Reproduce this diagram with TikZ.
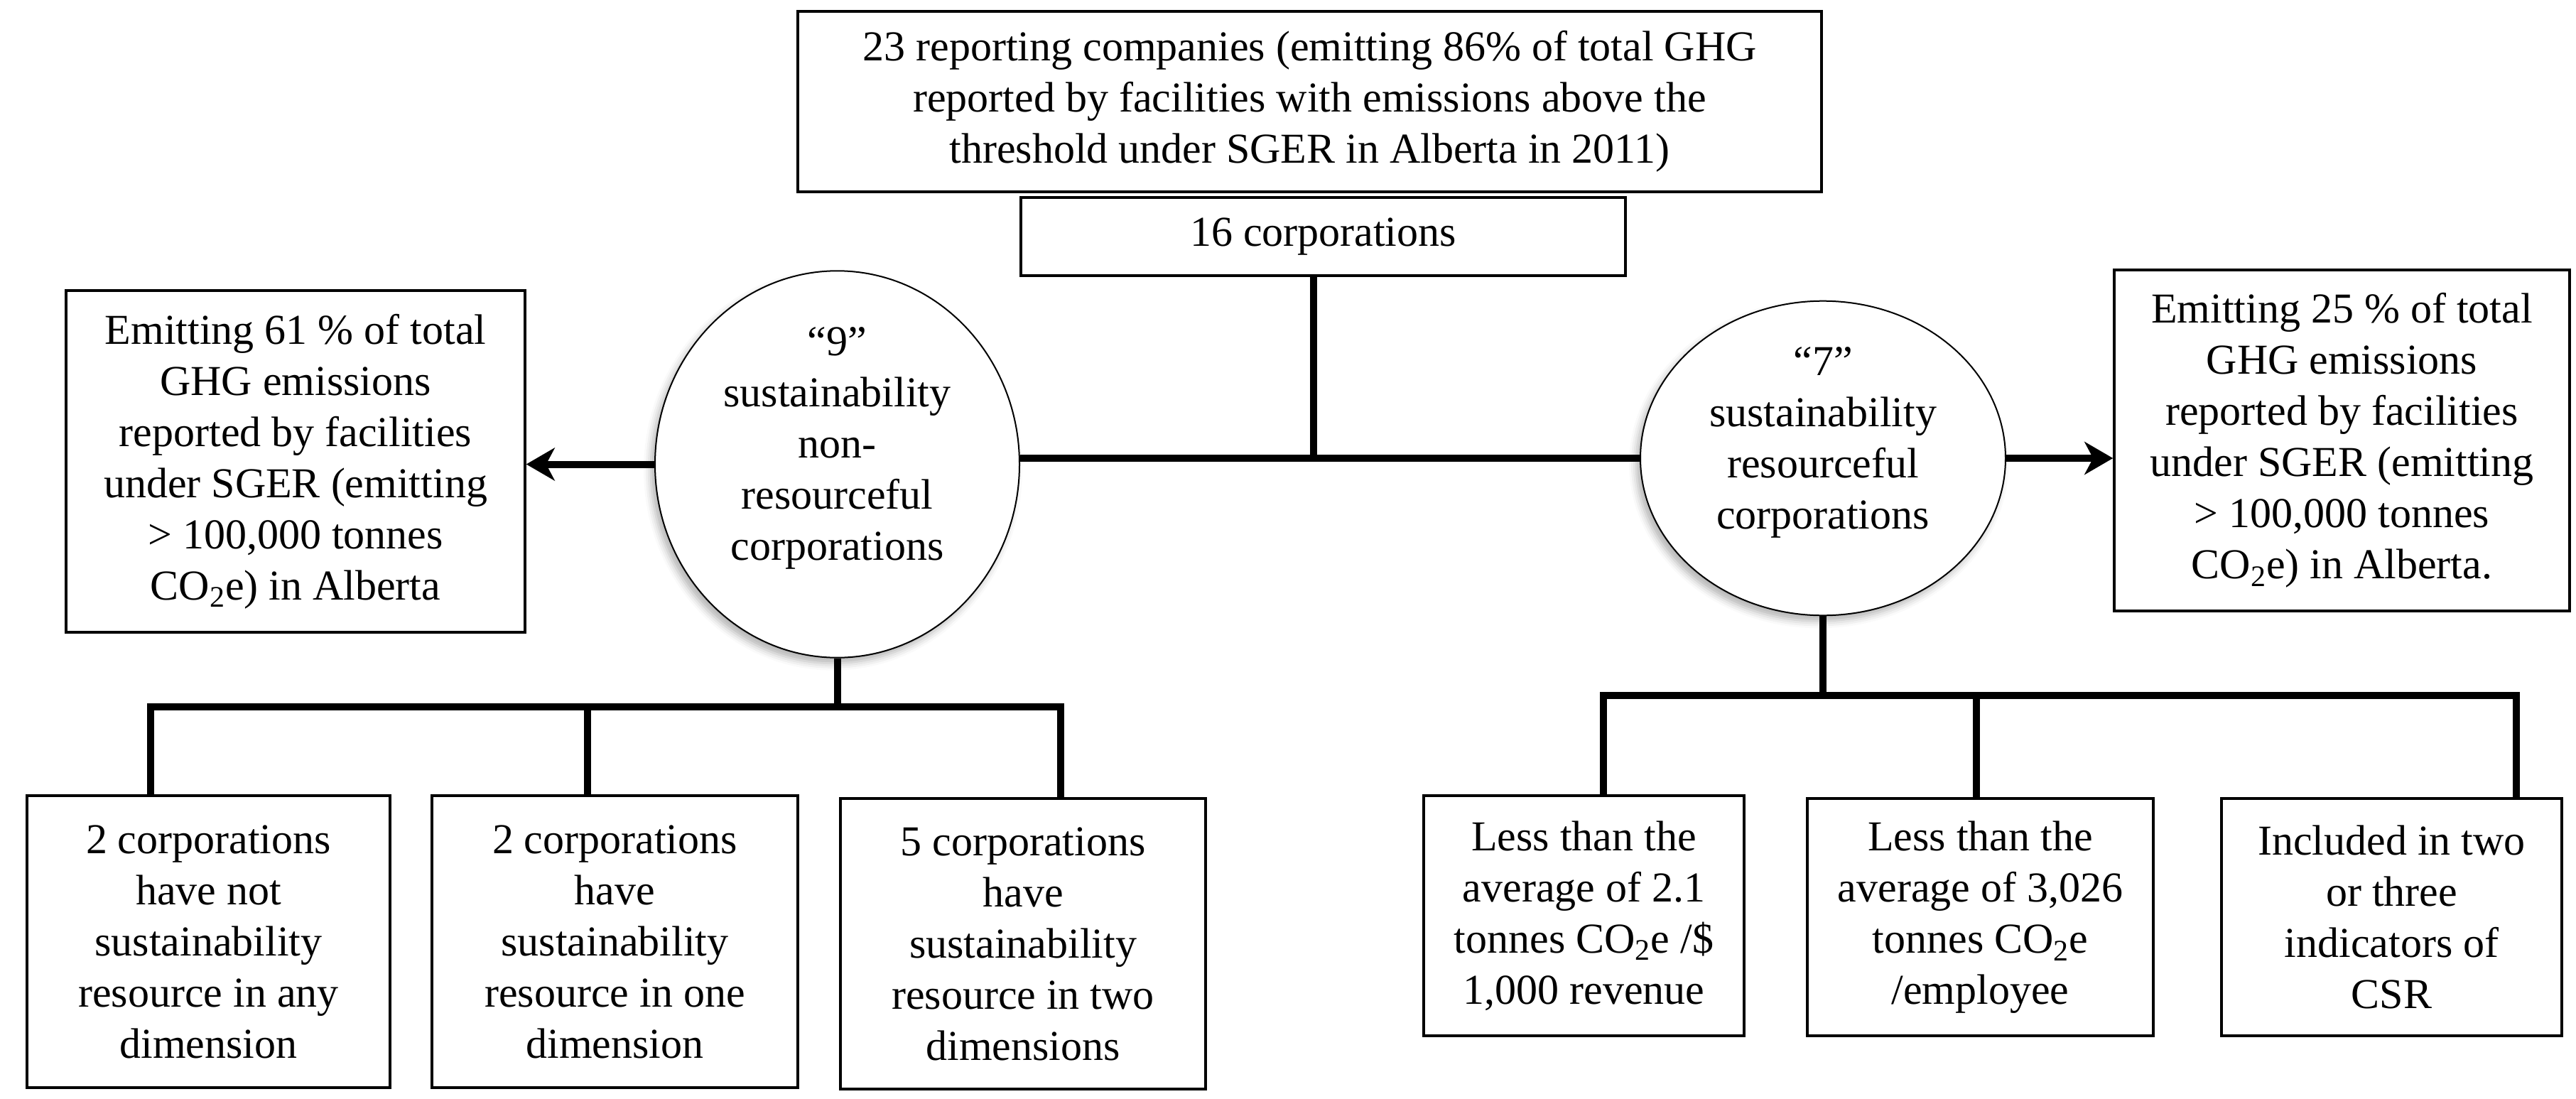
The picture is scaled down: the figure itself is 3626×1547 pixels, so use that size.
\documentclass[tikz,border=0pt]{standalone}
\usepackage{fontspec}
\setmainfont{Liberation Serif}
\usetikzlibrary{shapes.geometric,arrows.meta,shadows.blur}
\tikzset{
  txt/.style={font=\fontsize{30pt}{36pt}\selectfont, align=center, inner sep=0pt},
  rbox/.style={txt, draw, line width=1.75pt, rectangle},
  oval/.style={txt, draw, fill=white, line width=1pt, ellipse,
    blur shadow={shadow xshift=-3pt, shadow yshift=-4pt, shadow blur radius=5pt, shadow opacity=30}},
  conn/.style={line width=5pt},
  arr/.style={conn, -{Stealth[length=20pt,width=23pt,inset=6pt]}},
}
\begin{document}
\begin{tikzpicture}[x=0.5pt,y=-0.5pt]
\useasboundingbox (0,0) rectangle (3626,1547);
% boxes
\node[rbox, minimum width=720.5pt, minimum height=127pt] (top) at (1843.5,143)
  {23 reporting companies (emitting 86\% of total GHG\\ reported by facilities with emissions above the\\ threshold under SGER in Alberta in 2011)};
\node[rbox, minimum width=425.5pt, minimum height=55pt] (c16) at (1862.5,333) {16 corporations};
\node[rbox, minimum width=323pt, minimum height=240.5pt] (left) at (416,649.5)
  {Emitting 61 \% of total\\ GHG emissions\\ reported by facilities\\ under SGER (emitting\\ > 100,000 tonnes\\ CO\textsubscript{2}e) in Alberta};
\node[rbox, minimum width=320.5pt, minimum height=240pt] (right) at (3296.5,620)
  {Emitting 25 \% of total\\ GHG emissions\\ reported by facilities\\ under SGER (emitting\\ > 100,000 tonnes\\ CO\textsubscript{2}e) in Alberta.};
\node[oval, minimum width=256.5pt, minimum height=199.5pt] (e1) at (1178.5,653.5)
  {“9”\\ sustainability\\ non-\\ resourceful\\ corporations\\[-7.5pt]\mbox{}};
\node[oval, minimum width=257pt, minimum height=199pt] (e2) at (2566,645)
  {“7”\\ sustainability\\ resourceful\\ corporations\\[-7.5pt]\mbox{}};
\node[rbox, minimum width=255.5pt, minimum height=205.5pt] (b1) at (293.5,1325.5)
  {2 corporations\\ have not\\ sustainability\\ resource in any\\ dimension};
\node[rbox, minimum width=257.5pt, minimum height=205.5pt] (b2) at (865.5,1325.5)
  {2 corporations\\ have\\ sustainability\\ resource in one\\ dimension};
\node[rbox, minimum width=257pt, minimum height=204.5pt] (b3) at (1440,1328.5)
  {5 corporations\\ have\\ sustainability\\ resource in two\\ dimensions};
\node[rbox, minimum width=225.5pt, minimum height=169pt] (b4) at (2229.5,1289)
  {Less than the\\ average of 2.1\\ tonnes CO\textsubscript{2}e /\$\\ 1,000 revenue};
\node[rbox, minimum width=243.5pt, minimum height=167pt] (b5) at (2787.5,1291)
  {Less than the\\ average of 3,026\\ tonnes CO\textsubscript{2}e\\ /employee};
\node[rbox, minimum width=239.5pt, minimum height=167pt] (b6) at (3366.5,1291)
  {Included in two\\ or three\\ indicators of\\ CSR};
% junction coordinates
\coordinate (hub) at (1849,645);
\coordinate (l1) at (212,995);
\coordinate (l2) at (827,995);
\coordinate (l3) at (1493,995);
\coordinate (r1) at (2257,979);
\coordinate (r2) at (2782,979);
\coordinate (r3) at (3542,979);
% connectors
\draw[conn] (c16.south -| hub) -- (hub);
\draw[conn] (hub -| e1.east) -- (hub -| e2.west);
\draw[arr] (e1.west) -- (e1.west -| left.east);
\draw[arr] (e2.east) -- (e2.east -| right.west);
\draw[conn] (e1.south) -- (e1.south |- l1);
\draw[conn] (l1 |- b1.north) -- (l1) -- (l3) -- (l3 |- b3.north);
\draw[conn] (l2) -- (l2 |- b2.north);
\draw[conn] (e2.south) -- (e2.south |- r1);
\draw[conn] (r1 |- b4.north) -- (r1) -- (r3) -- (r3 |- b6.north);
\draw[conn] (r2) -- (r2 |- b5.north);
\end{tikzpicture}
\end{document}
